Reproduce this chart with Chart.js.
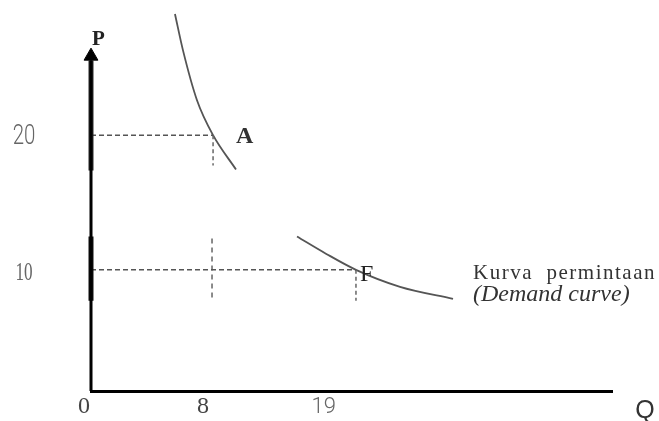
<!DOCTYPE html>
<html>
<head>
<meta charset="utf-8">
<script src="https://cdn.jsdelivr.net/npm/chart.js@4"></script>
<style>
  body { margin: 0; background: #fff; }
  #wrap { width: 659px; height: 421px; position: relative; }
</style>
</head>
<body>
<div id="wrap"><canvas id="myChart"></canvas></div>
<script>
// demand curve (Q across, P up)
const qUpper = [5.64, 6.18, 7.12, 8.2, 9.74];
const pUpper = [29.0, 26.3, 22.6, 20.0, 17.45];
const qLower = [13.84, 15.78, 17.8, 20.76, 24.32];
const pLower = [12.47, 11.2, 10.0, 8.74, 7.85];

// named points on the curve
const pointNames = ["A", "F"];
const pointQ = [8.2, 17.8];
const pointP = [20, 10];

// where the dotted drops below the points end
const dropEndP = [17.75, 7.7];
// the extra dotted mark under Q = 8 in the lower half
const extraDropQ = 8.13;
const extraDropP = [12.32, 7.7];

// tick labels
const qTickValues = [0, 8, 16.1];
const qTickLabels = ["0", "8", "19"];
const pTickValues = [20, 10];
const pTickLabels = ["20", "10"];

// P axis (drawn as pieces, the scan has it thick in places)
const pAxisTop = 25.57;
const pAxisArrow = 25.87;
const pAxisThick = [[25.57, 17.38], [12.47, 7.7]];

const toXY = (qs, ps) => qs.map((q, i) => ({ x: q, y: ps[i] }));

const dash = [5, 3];
const datasets = [];

// P axis
datasets.push({
  data: [{ x: 0, y: 1 }, { x: 0, y: pAxisTop }],
  borderColor: "#000",
  borderWidth: 3,
  pointRadius: 0,
});
pAxisThick.forEach((seg, i) => {
  datasets.push({
    data: [{ x: 0, y: seg[0] }, { x: 0, y: seg[1] }],
    borderColor: i === 0 ? "#2a2a2a" : "#111",
    borderWidth: 5,
    pointRadius: 0,
  });
});
// arrow head
datasets.push({
  data: [{ x: 0, y: pAxisArrow }],
  showLine: false,
  pointStyle: "triangle",
  pointRadius: 8,
  backgroundColor: "#000",
  borderColor: "#000",
  borderWidth: 1,
});

// dashed guides
pointNames.forEach((n, i) => {
  datasets.push({
    data: [{ x: 0, y: pointP[i] }, { x: pointQ[i], y: pointP[i] }],
    borderColor: "#555",
    borderWidth: 1.5,
    borderDash: dash,
    pointRadius: 0,
  });
  datasets.push({
    data: [{ x: pointQ[i], y: pointP[i] }, { x: pointQ[i], y: dropEndP[i] }],
    borderColor: "#666",
    borderWidth: 1.5,
    borderDash: [4, 3],
    pointRadius: 0,
  });
});
datasets.push({
  data: [{ x: extraDropQ, y: extraDropP[0] }, { x: extraDropQ, y: extraDropP[1] }],
  borderColor: "#666",
  borderWidth: 1.5,
  borderDash: [5, 4],
  pointRadius: 0,
});

// the demand curve, two pieces
[toXY(qUpper, pUpper), toXY(qLower, pLower)].forEach((pts) => {
  datasets.push({
    data: pts,
    borderColor: "#555",
    borderWidth: 1.8,
    pointRadius: 0,
    cubicInterpolationMode: "monotone",
  });
});

function drawText(ctx, str, x, y, font, color, align, sx) {
  ctx.save();
  ctx.font = font;
  ctx.fillStyle = color;
  ctx.textAlign = align || "left";
  ctx.textBaseline = "alphabetic";
  ctx.translate(x, y);
  ctx.scale(sx || 1, 1);
  ctx.fillText(str, 0, 0);
  ctx.restore();
}

const labelsPlugin = {
  id: "labels",
  afterDraw(chart) {
    const ctx = chart.ctx;
    const xs = chart.scales.x;
    const ys = chart.scales.y;
    const area = chart.chartArea;

    // P ticks
    pTickLabels.forEach((t, i) => {
      const py = ys.getPixelForValue(pTickValues[i]);
      if (i === 0) drawText(ctx, t, 24, py + 9, "300 28px Roboto", "#666", "center", 0.73);
      else drawText(ctx, t, 24, py + 10, "26px 'Liberation Serif'", "#666", "center", 0.66);
    });

    // Q ticks
    qTickLabels.forEach((t, i) => {
      const px = xs.getPixelForValue(qTickValues[i]) - 7;
      if (t === "19") drawText(ctx, t, px, area.bottom + 22, "300 22px Roboto", "#666", "center");
      else drawText(ctx, t, px, area.bottom + 22, "24px 'Liberation Serif'", "#444", "center");
    });

    // axis names
    drawText(ctx, "Q", area.right + 33, area.bottom + 27, "25px 'Liberation Sans'", "#333", "center");
    drawText(ctx, "P", xs.getPixelForValue(0) + 1, ys.getPixelForValue(pAxisArrow) - 11,
      "bold 21px 'Liberation Serif'", "#222", "left");

    // point names
    pointNames.forEach((n, i) => {
      const px = xs.getPixelForValue(pointQ[i]);
      const py = ys.getPixelForValue(pointP[i]);
      if (n === "A") drawText(ctx, n, px + 23, py + 8, "bold 24px 'Liberation Serif'", "#333", "left");
      else drawText(ctx, n, px + 4, py + 11, "24px 'Liberation Serif'", "#222", "left");
    });

    // curve caption
    const cx = xs.getPixelForValue(qLower[qLower.length - 1]) + 20;
    const cy = ys.getPixelForValue(pointP[1]);
    ctx.save();
    ctx.letterSpacing = "1.5px";
    drawText(ctx, "Kurva  permintaan", cx, cy + 9, "21px 'Liberation Serif'", "#333", "left");
    ctx.restore();
    drawText(ctx, "(Demand curve)", cx, cy + 31, "italic 24px 'Liberation Serif'", "#333", "left");
  },
};

const ctx = document.getElementById("myChart").getContext("2d");
const myChart = new Chart(ctx, {
  type: "scatter",
  data: { datasets: datasets },
  options: {
    responsive: true,
    maintainAspectRatio: false,
    animation: false,
    showLine: true,
    clip: false,
    layout: { padding: { left: 91, right: 47, top: 14, bottom: 30 } },
    plugins: {
      legend: { display: false },
      tooltip: { enabled: false },
    },
    scales: {
      x: {
        type: "linear",
        min: 0,
        max: 35,
        grid: { display: false, drawTicks: false },
        ticks: { display: false },
        border: { display: true, color: "#000", width: 3 },
      },
      y: {
        type: "linear",
        min: 1,
        max: 29,
        grid: { display: false, drawTicks: false },
        ticks: { display: false },
        border: { display: false },
      },
    },
  },
  plugins: [labelsPlugin],
});
</script>
</body>
</html>
